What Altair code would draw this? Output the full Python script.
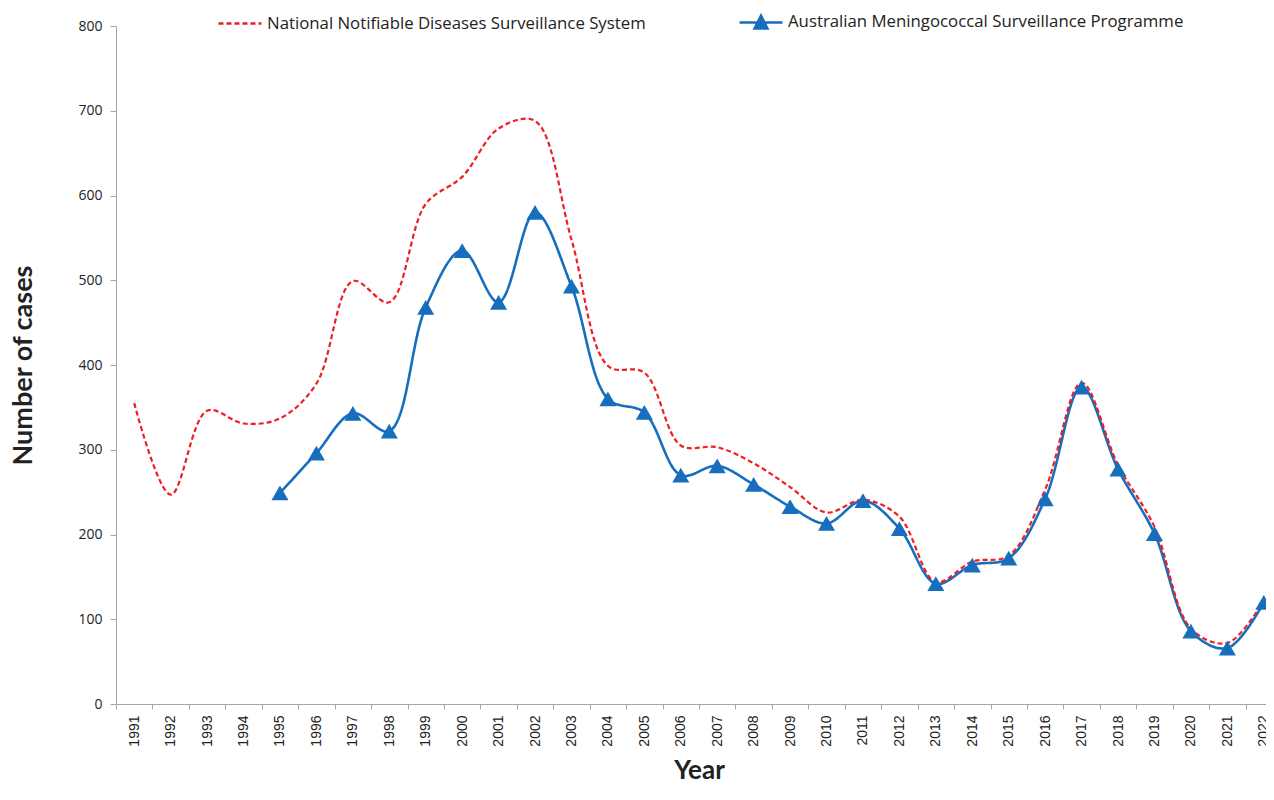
import altair as alt
import pandas as pd

years = ["1991", "1992", "1993", "1994", "1995", "1996", "1997", "1998", "1999", "2000",
         "2001", "2002", "2003", "2004", "2005", "2006", "2007", "2008", "2009", "2010",
         "2011", "2012", "2013", "2014", "2015", "2016", "2017", "2018", "2019", "2020",
         "2021", "2022"]
nndss = [355, 247, 346, 331, 337, 378, 499, 474, 590, 622,
         679, 688, 548, 399, 391, 305, 303, 284, 256, 226,
         241, 221, 144, 168, 175, 253, 379, 282, 209, 89,
         72, 122]
amsp_years = years[4:]
amsp = [249, 296, 343, 322, 468, 535, 474, 580, 493, 360,
        344, 270, 281, 259, 233, 213, 240, 207, 142, 164,
        172, 242, 374, 277, 201, 86, 66, 120]

S1 = "National Notifiable Diseases Surveillance System"
S2 = "Australian Meningococcal Surveillance Programme"
RED = "#F01E23"
BLUE = "#166EBD"

df = pd.concat([
    pd.DataFrame({"year": years, "cases": nndss, "series": S1}),
    pd.DataFrame({"year": amsp_years, "cases": amsp, "series": S2}),
], ignore_index=True)

FONT = "Open Sans"
TFONT = "Lato"

legend = alt.Legend(
    title=None, orient="none", legendX=101, legendY=-27, direction="horizontal",
    columnPadding=88, labelFont=FONT, labelFontSize=16.8, labelColor="#222222",
    labelLimit=0, symbolSize=1849, symbolStrokeWidth=2.5, labelOffset=4,
)

x = alt.X("year:O", title="Year",
          scale=alt.Scale(domain=years, range=[0, 1166], paddingInner=0, paddingOuter=0),
          axis=alt.Axis(tickBand="extent", labelAngle=-90, labelFont="Liberation Sans",
                        labelFontSize=14, labelColor="#222222", labelPadding=6,
                        tickSize=5, domainColor="#A6A6A6", tickColor="#A6A6A6",
                        titleFont=TFONT, titleFontSize=26, titleFontWeight="bold",
                        titleColor="#222222", titlePadding=11))
y = alt.Y("cases:Q", title="Number of cases",
          scale=alt.Scale(domain=[0, 800], nice=False),
          axis=alt.Axis(values=list(range(0, 801, 100)), grid=False, labelFont=FONT,
                        labelFontSize=14, labelColor="#222222", labelPadding=8,
                        tickSize=6, domainColor="#A6A6A6", tickColor="#A6A6A6",
                        titleFont=TFONT, titleFontSize=27, titleFontWeight="bold",
                        titleColor="#222222", titlePadding=40))

color = alt.Color("series:N", scale=alt.Scale(domain=[S1, S2], range=[RED, BLUE]), legend=legend)
dash = alt.StrokeDash("series:N", scale=alt.Scale(domain=[S1, S2], range=[[5, 3], [1, 0]]), legend=legend)
shape = alt.Shape("series:N", scale=alt.Scale(
    domain=[S1, S2],
    range=["M-1,0H1", "M-1,0H1M-0.3,0.28L0,-0.32L0.3,0.28Z"]), legend=legend)

base = alt.Chart(df).encode(x=x, y=y)

blue_line = base.transform_filter(alt.datum.series == S2).mark_line(
    interpolate="catmull-rom", strokeWidth=2.6).encode(color=color, strokeDash=dash)
red_line = base.transform_filter(alt.datum.series == S1).mark_line(
    interpolate="catmull-rom", strokeWidth=2.2).encode(color=color, strokeDash=dash)
points = base.transform_filter(alt.datum.series == S2).mark_point(
    shape="triangle-up", filled=True, size=290, opacity=1).encode(
    color=alt.Color("series:N", scale=alt.Scale(domain=[S1, S2], range=[RED, BLUE]), legend=None))
legend_layer = base.transform_filter("false").mark_point(
    filled=False, opacity=1, strokeWidth=2.5).encode(color=color, strokeDash=dash, shape=shape)

chart = alt.layer(blue_line, red_line, points, legend_layer).properties(
    width=1150, height=678,
    autosize=alt.AutoSizeParams(type="none"),
    padding={"left": 108, "top": 18, "right": 0, "bottom": 82},
).configure_view(stroke=None)

chart.save("out.html", embed_options={"renderer": "svg", "actions": False})
